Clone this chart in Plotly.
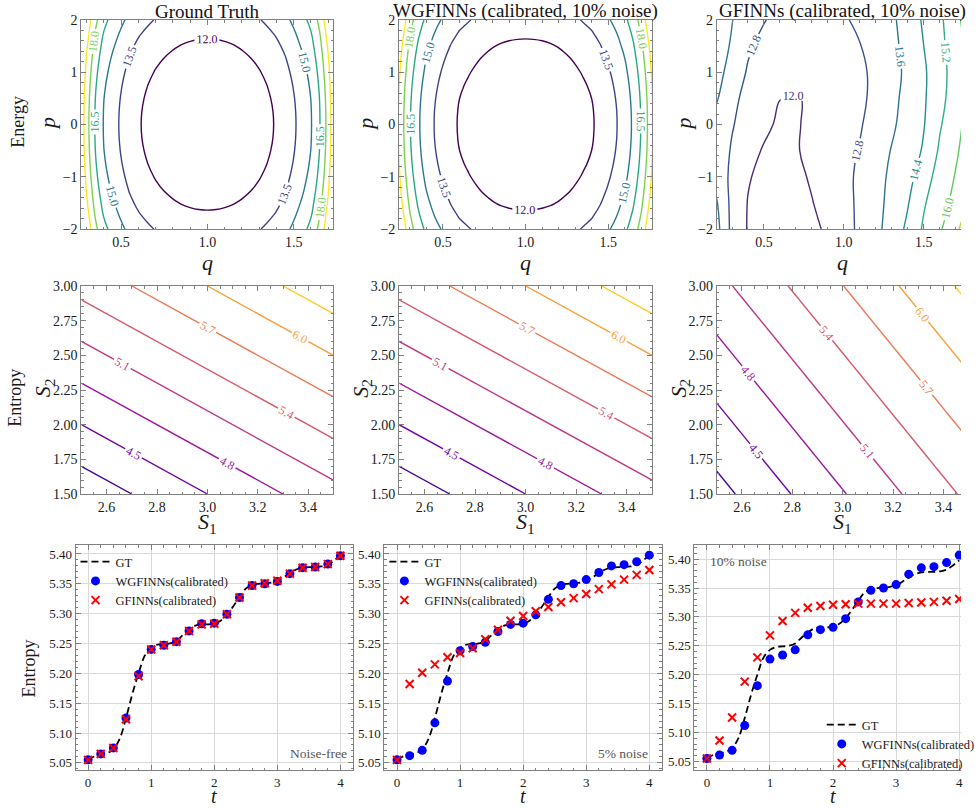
import plotly.graph_objects as go

W, H = 980, 808
FONT = "Liberation Serif"
TXT = "#1a1a1a"
FRAME = "#808080"

# ---------------------------------------------------------------- data
# Energy panels (row 1): ground truth and WGFINNs are E(q, p) = f(q) + g(p)
q_gt = [0.25, 0.30, 0.35, 0.40, 0.45, 0.50, 0.55, 0.60, 0.65, 0.70, 0.75, 0.80, 0.85, 0.90, 0.95, 1.00,
        1.05, 1.10, 1.15, 1.20, 1.25, 1.30, 1.35, 1.40, 1.45, 1.50, 1.55, 1.60, 1.65, 1.70, 1.75]
f_gt = [21.5, 18.6, 16.4, 14.9, 14.05, 13.3, 12.62, 12.12, 11.75, 11.43, 11.18, 10.98, 10.83, 10.73, 10.67, 10.65,
        10.67, 10.73, 10.83, 10.98, 11.18, 11.43, 11.75, 12.12, 12.62, 13.3, 14.05, 14.9, 16.4, 18.6, 21.5]

q_wg = [0.20, 0.25, 0.30, 0.35, 0.40, 0.45, 0.50, 0.55, 0.60, 0.65, 0.70, 0.75, 0.80, 0.85, 0.90, 0.95, 1.00,
        1.05, 1.10, 1.15, 1.20, 1.25, 1.30, 1.35, 1.40, 1.45, 1.50, 1.55, 1.60, 1.65, 1.70, 1.75, 1.80]
f_wg = [21.0, 18.5, 16.6, 15.2, 14.2, 13.45, 12.85, 12.3, 11.88, 11.6, 11.33, 11.1, 10.92, 10.79, 10.71, 10.665, 10.65,
        10.665, 10.71, 10.79, 10.92, 11.1, 11.33, 11.6, 11.88, 12.3, 12.85, 13.45, 14.2, 15.2, 16.6, 18.5, 21.0]

p_e = [-2.0, -1.75, -1.5, -1.25, -1.0, -0.75, -0.5, -0.25, 0.0, 0.25, 0.5, 0.75, 1.0, 1.25, 1.5, 1.75, 2.0]
g_p = [2.0, 1.53, 1.125, 0.78, 0.5, 0.28, 0.125, 0.03, 0.0, 0.03, 0.125, 0.28, 0.5, 0.78, 1.125, 1.53, 2.0]

# GFINNs energy, sampled on a coarse (p, q) grid
q_gf = [0.2, 0.3, 0.4, 0.5, 0.6, 0.7, 0.8, 0.9, 1.0, 1.1, 1.2, 1.3, 1.4, 1.5, 1.6, 1.7, 1.8]
p_gf = [-2.0, -1.5, -1.0, -0.5, 0.0, 0.5, 1.0, 1.5, 2.0]
e_gf = [
    [13.9, 12.59, 11.95, 11.62, 11.46, 11.55, 11.82, 12.13, 12.52, 12.94, 13.39, 13.94, 14.56, 15.31, 15.89, 16.64, 17.4],
    [13.7, 12.58, 11.97, 11.70, 11.55, 11.68, 11.97, 12.28, 12.58, 12.93, 13.36, 13.83, 14.35, 15.12, 15.68, 16.24, 17.0],
    [13.3, 12.63, 12.06, 11.80, 11.65, 11.82, 12.09, 12.35, 12.62, 12.92, 13.33, 13.75, 14.12, 14.84, 15.52, 16.05, 16.6],
    [13.25, 12.73, 12.27, 11.93, 11.75, 11.95, 12.16, 12.38, 12.60, 12.84, 13.24, 13.64, 13.96, 14.49, 15.31, 15.89, 16.46],
    [13.3, 12.85, 12.50, 12.17, 11.87, 11.93, 12.16, 12.35, 12.55, 12.74, 13.08, 13.48, 13.91, 14.36, 15.12, 15.74, 16.4],
    [13.69, 13.03, 12.52, 12.195, 12.01, 11.98, 12.04, 12.19, 12.385, 12.645, 13.0, 13.4, 13.84, 14.31, 14.93, 15.64, 16.36],
    [13.9, 13.29, 12.72, 12.39, 12.19, 12.10, 12.12, 12.22, 12.40, 12.65, 12.98, 13.35, 13.76, 14.29, 14.9, 15.56, 16.29],
    [14.1, 13.49, 12.91, 12.57, 12.38, 12.27, 12.26, 12.33, 12.51, 12.77, 13.09, 13.41, 13.83, 14.4, 14.97, 15.64, 16.36],
    [14.2, 13.62, 13.21, 12.84, 12.57, 12.43, 12.41, 12.50, 12.71, 12.975, 13.225, 13.475, 13.91, 14.51, 15.04, 15.76, 16.56],
]

# Entropy panels (row 2): corner values of S(S1, S2) (rows: S2, cols: S1)
s1_c = [2.5, 3.5]
s2_c = [1.5, 3.0]
s_gt = [[4.0, 5.0], [5.5, 6.5]]
s_wg = [[4.0, 5.0], [5.5, 6.5]]
s_gf = [[4.10, 5.46], [5.015, 6.375]]

# Entropy trajectories (row 3)
t_gt = [0.0, 0.1, 0.2, 0.3, 0.4, 0.5, 0.6, 0.7, 0.8, 0.9, 1.0, 1.1, 1.2, 1.3, 1.4, 1.5, 1.6, 1.7, 1.8, 1.9, 2.0,
        2.1, 2.2, 2.3, 2.4, 2.5, 2.6, 2.7, 2.8, 2.9, 3.0, 3.1, 3.2, 3.3, 3.4, 3.5, 3.6, 3.7, 3.8, 3.9, 4.0]
ent_gt = [5.055, 5.061, 5.064, 5.066, 5.073, 5.090, 5.125, 5.165, 5.200, 5.230, 5.243, 5.248, 5.249, 5.250, 5.254,
          5.264, 5.273, 5.280, 5.282, 5.282, 5.283, 5.288, 5.298, 5.312, 5.328, 5.342, 5.348, 5.350, 5.351, 5.352,
          5.355, 5.361, 5.368, 5.374, 5.377, 5.378, 5.378, 5.379, 5.382, 5.389, 5.398]
t_pts = [0.0, 0.2, 0.4, 0.6, 0.8, 1.0, 1.2, 1.4, 1.6, 1.8, 2.0, 2.2, 2.4, 2.6, 2.8, 3.0, 3.2, 3.4, 3.6, 3.8, 4.0]
wg_0 = [5.055, 5.065, 5.075, 5.125, 5.198, 5.240, 5.247, 5.253, 5.271, 5.283, 5.284, 5.299, 5.327, 5.347, 5.350,
        5.354, 5.367, 5.377, 5.378, 5.383, 5.397]
gf_0 = [5.055, 5.065, 5.075, 5.123, 5.195, 5.240, 5.247, 5.253, 5.271, 5.282, 5.283, 5.299, 5.327, 5.347, 5.351,
        5.355, 5.367, 5.377, 5.378, 5.383, 5.397]
wg_5 = [5.055, 5.062, 5.071, 5.117, 5.187, 5.238, 5.245, 5.252, 5.270, 5.282, 5.284, 5.298, 5.324, 5.347, 5.350,
        5.357, 5.369, 5.380, 5.382, 5.387, 5.398]
gf_5 = [5.055, 5.182, 5.201, 5.215, 5.227, 5.234, 5.242, 5.257, 5.273, 5.288, 5.296, 5.304, 5.311, 5.319, 5.326,
        5.333, 5.341, 5.349, 5.357, 5.365, 5.373]
wg_10 = [5.055, 5.061, 5.069, 5.112, 5.181, 5.227, 5.234, 5.243, 5.269, 5.278, 5.282, 5.297, 5.326, 5.346, 5.350,
         5.356, 5.374, 5.385, 5.387, 5.394, 5.407]
gf_10 = [5.055, 5.086, 5.126, 5.188, 5.230, 5.268, 5.293, 5.307, 5.316, 5.319, 5.321, 5.322, 5.323, 5.323, 5.323,
         5.323, 5.324, 5.325, 5.326, 5.328, 5.331]

titles = ["Ground Truth", "WGFINNs (calibrated, 10% noise)", "GFINNs (calibrated, 10% noise)"]
noise_labels = ["Noise-free", "5% noise", "10% noise"]

# ---------------------------------------------------------------- figure
z_gt = [[gp + fq for fq in f_gt] for gp in g_p]
z_wg = [[gp + fq for fq in f_wg] for gp in g_p]

fig = go.Figure()


def axname(k, c):
    return c if k == 1 else f"{c}{k}"


def energy(x, y, z, k, start, end, size):
    fig.add_trace(go.Contour(
        x=x, y=y, z=z, xaxis=axname(k, "x"), yaxis=axname(k, "y"),
        autocontour=False, colorscale="Viridis", showscale=False, hoverinfo="skip",
        contours=dict(start=start, end=end, size=size, coloring="lines", showlabels=True,
                      labelformat=".1f", labelfont=dict(family=FONT, size=12)),
        line=dict(width=1.4, smoothing=1.3)))


def entropy(z, k):
    fig.add_trace(go.Contour(
        x=s1_c, y=s2_c, z=z, xaxis=axname(k, "x"), yaxis=axname(k, "y"),
        autocontour=False, colorscale="Plasma", showscale=False, hoverinfo="skip",
        contours=dict(start=3.9, end=6.6, size=0.3, coloring="lines", showlabels=True,
                      labelformat=".1f", labelfont=dict(family=FONT, size=12)),
        line=dict(width=1.4, smoothing=0)))


energy(q_gt, p_e, z_gt, 1, 12.0, 19.5, 1.5)
energy(q_wg, p_e, z_wg, 2, 12.0, 19.5, 1.5)
energy(q_gf, p_gf, e_gf, 3, 11.2, 17.6, 0.8)
entropy(s_gt, 4)
entropy(s_wg, 5)
entropy(s_gf, 6)

series = [(wg_0, gf_0), (wg_5, gf_5), (wg_10, gf_10)]
for i, (wg, gf) in enumerate(series):
    k = 7 + i
    lg = "legend" if i == 0 else f"legend{i + 1}"
    xa, ya = axname(k, "x"), axname(k, "y")
    fig.add_trace(go.Scatter(x=t_gt, y=ent_gt, mode="lines", name="GT", legend=lg, xaxis=xa, yaxis=ya,
                             line=dict(color="black", width=1.8, dash="7px,4px", shape="spline")))
    fig.add_trace(go.Scatter(x=t_pts, y=wg, mode="markers", name="WGFINNs(calibrated)", legend=lg,
                             xaxis=xa, yaxis=ya, marker=dict(color="#0000ff", size=9, symbol="circle")))
    fig.add_trace(go.Scatter(x=t_pts, y=gf, mode="markers", name="GFINNs(calibrated)", legend=lg,
                             xaxis=xa, yaxis=ya,
                             marker=dict(color="#ff0000", size=8, symbol="x-thin",
                                         line=dict(width=2, color="#ff0000"))))

# ---------------------------------------------------------------- layout
layout = dict(width=W, height=H, margin=dict(l=0, r=0, t=0, b=0), autosize=False,
              paper_bgcolor="white", plot_bgcolor="white",
              font=dict(family=FONT, color=TXT))


def dom_x(a, b):
    return [a / W, min(b / W, 1.0)]


def dom_y(top, bottom):
    return [1 - bottom / H, 1 - top / H]


cols_top = [(83, 340), (407, 665), (731, 988)]
cols_bot = [(77, 360), (392, 675), (708, 991)]
rows = [(20, 229), (286, 494), (545, 770)]

xr_top = [[0.27, 1.73], [0.235, 1.765], [0.205, 1.733]]
xr_mid = [[2.5, 3.5], [2.5, 3.5], [2.5, 3.47]]
xr_bot = [[-0.2, 4.2], [-0.2, 4.2], [-0.2, 4.029]]
yr_bot = [[5.038, 5.415], [5.038, 5.415], [5.035, 5.4245]]


def base_axis(dom, rng, dtick, mdtick, fsize, fmt, anchor, mirror=True, grid=False):
    return dict(domain=dom, range=rng, anchor=anchor, dtick=dtick, tickformat=fmt, automargin=False,
                showline=True, linecolor=FRAME, linewidth=1, mirror="ticks" if mirror else False,
                ticks="inside", ticklen=5, tickwidth=1, tickcolor=FRAME,
                tickfont=dict(family=FONT, size=fsize, color=TXT),
                showgrid=grid, gridcolor="#d9d9d9", gridwidth=1, zeroline=False,
                minor=dict(ticks="inside", ticklen=2.5, tickcolor=FRAME, dtick=mdtick, showgrid=False))


for c in range(3):
    # top row
    k = 1 + c
    layout[axname(k, "xaxis")] = base_axis(dom_x(*cols_top[c]), xr_top[c], 0.5, 0.1, 14, ".1f", axname(k, "y"))
    layout[axname(k, "yaxis")] = base_axis(dom_y(*rows[0]), [-2, 2], 1, 0.2, 14, "d", axname(k, "x"),
                                           mirror=(c < 2))
    # middle row
    k = 4 + c
    layout[axname(k, "xaxis")] = base_axis(dom_x(*cols_top[c]), xr_mid[c], 0.2, 0.05, 14, ".1f", axname(k, "y"))
    layout[axname(k, "yaxis")] = base_axis(dom_y(*rows[1]), [1.5, 3.0], 0.25, 0.05, 14, ".2f", axname(k, "x"),
                                           mirror=(c < 2))
    # bottom row
    k = 7 + c
    layout[axname(k, "xaxis")] = base_axis(dom_x(*cols_bot[c]), xr_bot[c], 1, 0.2, 13, "d", axname(k, "y"),
                                           grid=True)
    layout[axname(k, "yaxis")] = base_axis(dom_y(*rows[2]), yr_bot[c], 0.05, 0.01, 13, ".2f", axname(k, "x"),
                                           mirror=(c < 2), grid=True)

leg_font = dict(family=FONT, size=12.5, color=TXT)
layout["legend"] = dict(x=77 / W, y=1 - 547 / H, xanchor="left", yanchor="top", bgcolor="rgba(0,0,0,0)",
                        font=leg_font, itemwidth=30)
layout["legend2"] = dict(x=392 / W, y=1 - 547 / H, xanchor="left", yanchor="top", bgcolor="rgba(0,0,0,0)",
                         font=leg_font, itemwidth=30)
layout["legend3"] = dict(x=838 / W, y=1 - 710 / H, xanchor="left", yanchor="top", bgcolor="rgba(0,0,0,0)",
                         font=leg_font, itemwidth=30)

ann = []


def note(text, x, y, size, angle=0, xanchor="center", color=TXT):
    ann.append(dict(text=text, x=x / W, y=1 - y / H, xref="paper", yref="paper", showarrow=False,
                    textangle=angle, xanchor=xanchor, yanchor="middle",
                    font=dict(family=FONT, size=size, color=color)))


for c in range(3):
    cx = (cols_top[c][0] + cols_top[c][1]) / 2
    note(titles[c], cx, 11, 19, color="#111111")
    note("<i>q</i>", cx, 263, 22)
    note("<i>S</i><sub>1</sub>", cx, 523, 22)
    bx = (cols_bot[c][0] + cols_bot[c][1]) / 2
    note("<i>t</i>", bx, 796, 20)
    ylx = [48, 372, 696][c]
    note("<i>p</i>", ylx, 124, 22, angle=-90)
    note("<i>S</i><sub>2</sub>", ylx - 3, 388, 22, angle=-90)

note("Energy", 18, 122, 18, angle=-90)
note("Entropy", 15, 398, 18, angle=-90)
note("Entropy", 30, 668, 18, angle=-90)

note(noise_labels[0], 356, 753, 13.5, xanchor="right", color="#555555")
note(noise_labels[1], 663, 753, 13.5, xanchor="right", color="#555555")
note(noise_labels[2], 722, 561, 13.5, xanchor="left", color="#555555")

layout["annotations"] = ann
fig.update_layout(**layout)
fig.write_html("out.html",
               post_script="document.body.style.margin='0';document.body.style.overflow='hidden';")
